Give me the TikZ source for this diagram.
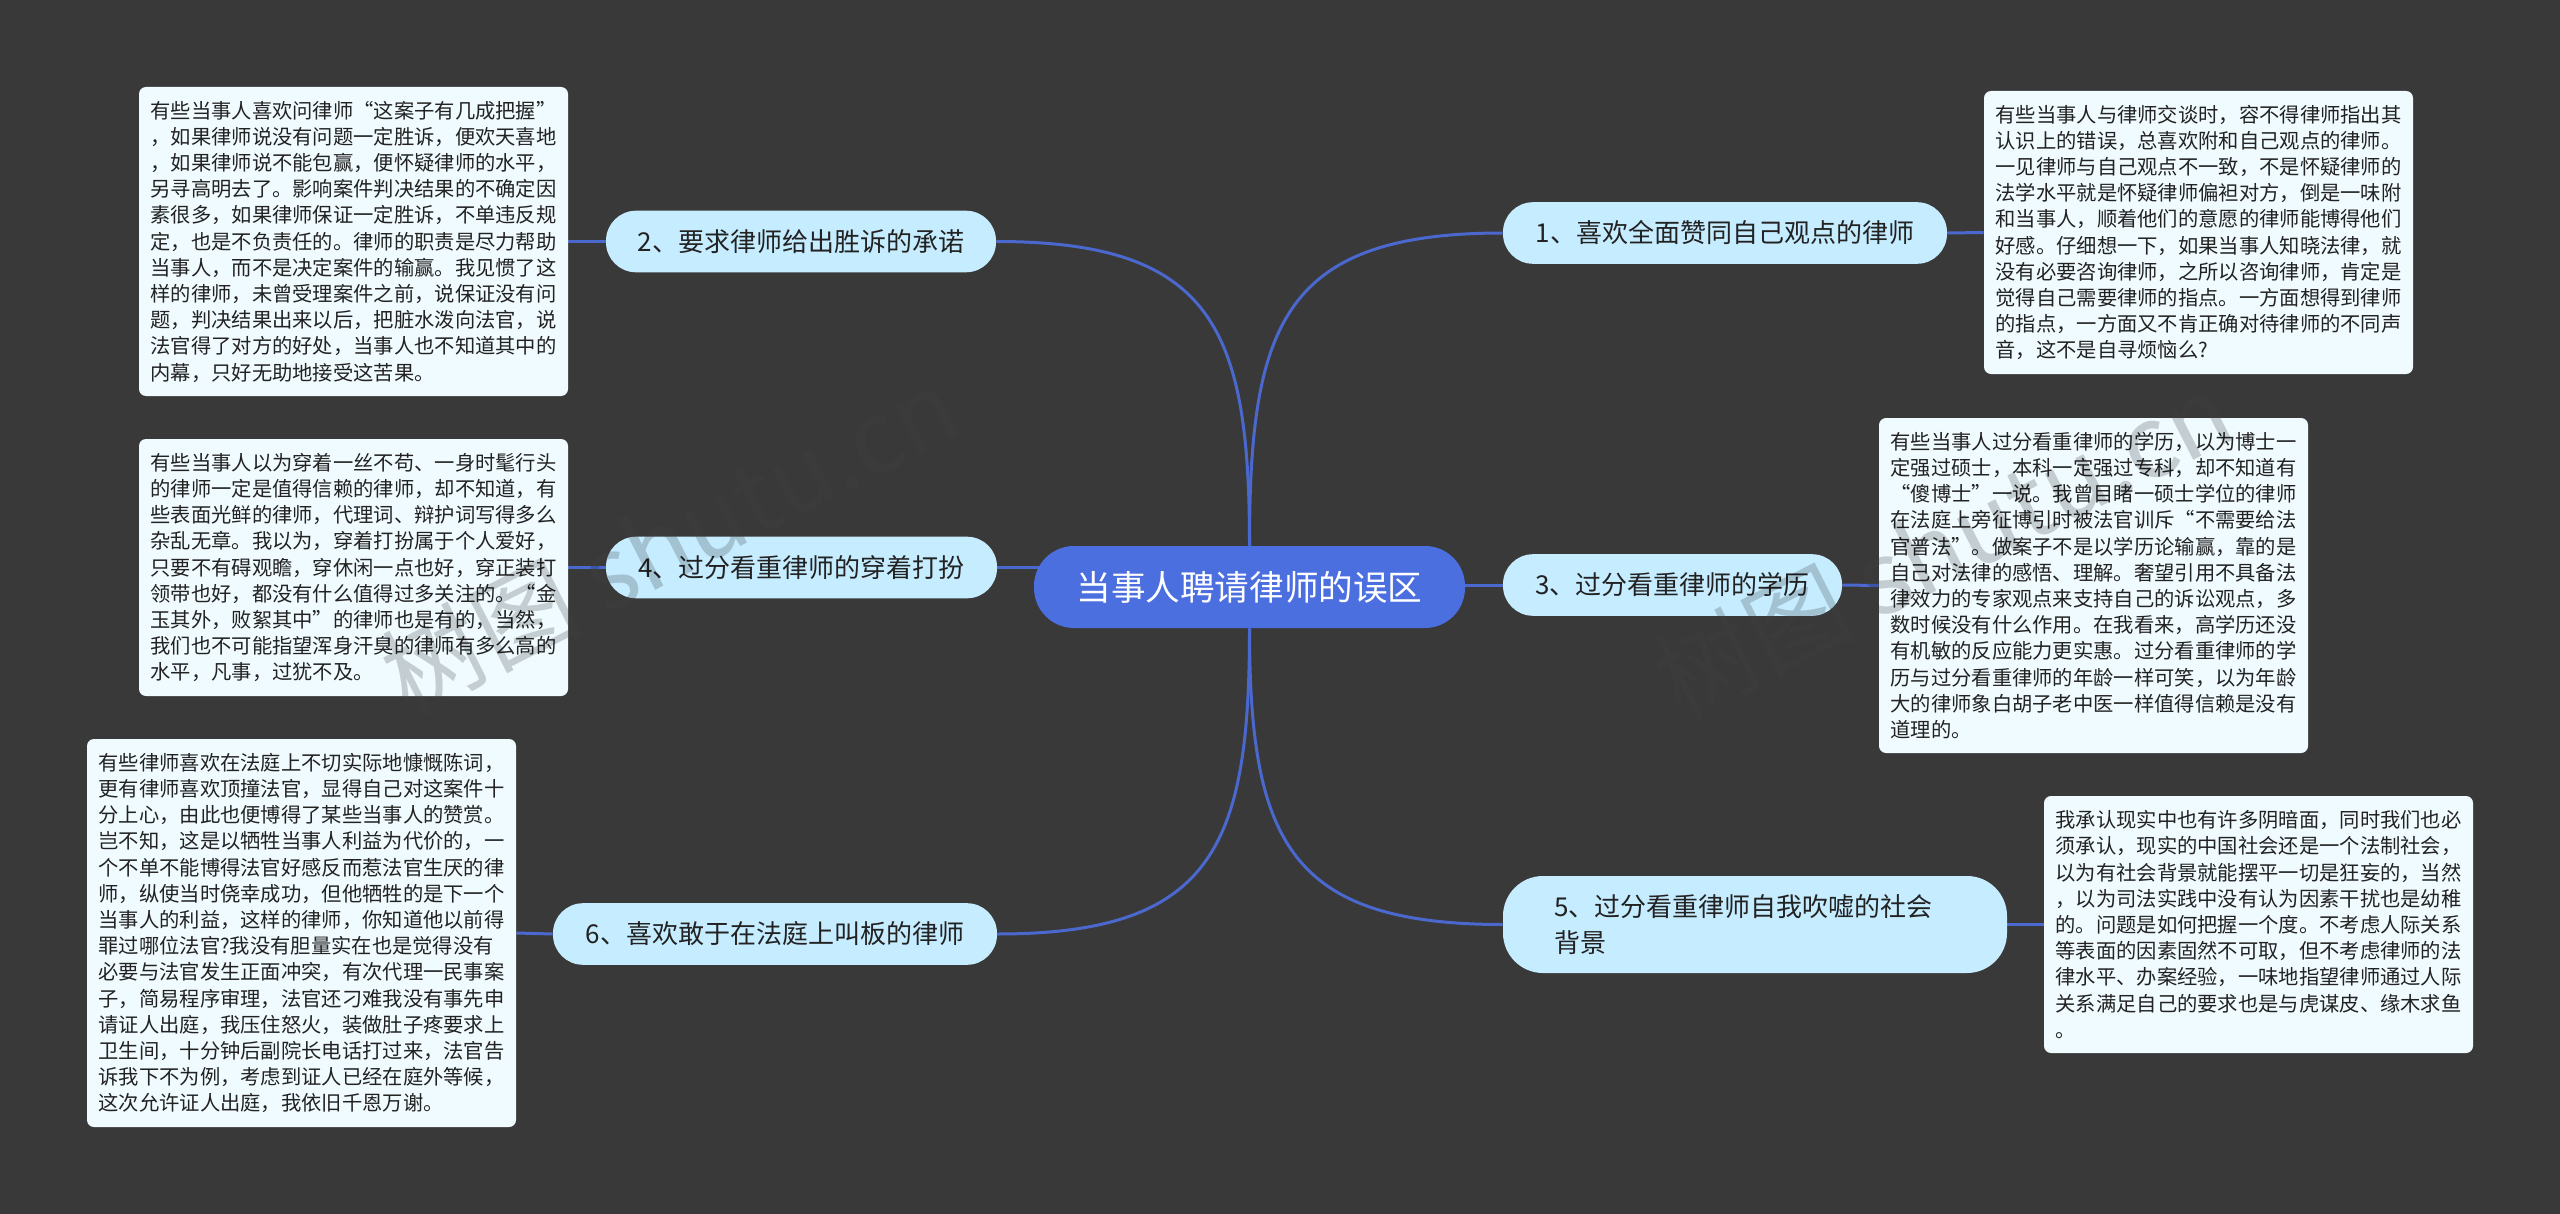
\documentclass[tikz,border=0pt]{standalone}
\usepackage{fontspec}
\setmainfont{Noto Sans CJK SC}
\usetikzlibrary{backgrounds,calc}
\definecolor{canvasgray}{HTML}{3A3939}
\definecolor{rootblue}{HTML}{4C6FE0}
\definecolor{linkblue}{HTML}{4A68CE}
\definecolor{topicblue}{HTML}{C6ECFF}
\definecolor{notewhite}{HTML}{F0FBFF}
\definecolor{inkdark}{HTML}{222222}
\tikzset{
  rootnode/.style={fill=rootblue,text=white,rounded corners=20pt,inner sep=0pt,
    minimum width=215.5pt,minimum height=41pt,font=\fontsize{17.3}{22}\selectfont},
  topicnode/.style={fill=topicblue,text=inkdark,rounded corners=15pt,inner sep=0pt,
    minimum height=30.8pt,font=\fontsize{13}{18.3}\selectfont},
  notebox/.style={fill=notewhite,text=inkdark,rounded corners=3.5pt,inner sep=0pt,
    minimum width=214.5pt,align=left,font=\fontsize{10.15}{13.1}\selectfont},
  link/.style={draw=linkblue,line width=1.5pt},
  curvelink/.style={link,looseness=1.4},
  wmark/.style={rotate=27,text=black!18,font=\fontsize{50}{60}\selectfont},
  wmarklow/.style={rotate=27,text=canvasgray!92!white,font=\fontsize{50}{60}\selectfont}
}
\begin{document}
\begin{tikzpicture}[x=0.5pt,y=-0.5pt]
  \node[rootnode] (root) at (1249.5,587) {当事人聘请律师的误区};

  \node[topicnode,minimum width=222pt] (n1) at (1725,233) {1、喜欢全面赞同自己观点的律师};
  \node[topicnode,minimum width=195pt] (n2) at (801,241.5) {2、要求律师给出胜诉的承诺};
  \node[topicnode,minimum width=169.5pt] (n3) at (1672.5,585) {3、过分看重律师的学历};
  \node[topicnode,minimum width=195.5pt] (n4) at (801.5,567.5) {4、过分看重律师的穿着打扮};
  \node[topicnode,rounded corners=20pt,minimum height=48.5pt,align=left,text width=201pt,
    inner xsep=25.5pt] (n5) at (1755,924.5) {5、过分看重律师自我吹嘘的社会\\背景};
  \node[topicnode,minimum width=222pt] (n6) at (775,934) {6、喜欢敢于在法庭上叫板的律师};

  \node[notebox,minimum height=141.5pt] (box1) at (2198.5,232.5) {有些当事人与律师交谈时，容不得律师指出其\\
    认识上的错误，总喜欢附和自己观点的律师。\\
    一见律师与自己观点不一致，不是怀疑律师的\\
    法学水平就是怀疑律师偏袒对方，倒是一味附\\
    和当事人，顺着他们的意愿的律师能博得他们\\
    好感。仔细想一下，如果当事人知晓法律，就\\
    没有必要咨询律师，之所以咨询律师，肯定是\\
    觉得自己需要律师的指点。一方面想得到律师\\
    的指点，一方面又不肯正确对待律师的不同声\\
    音，这不是自寻烦恼么?};
  \node[notebox,minimum height=154.5pt] (box2) at (353.5,241.5) {有些当事人喜欢问律师“这案子有几成把握”\\
    ，如果律师说没有问题一定胜诉，便欢天喜地\\
    ，如果律师说不能包赢，便怀疑律师的水平，\\
    另寻高明去了。影响案件判决结果的不确定因\\
    素很多，如果律师保证一定胜诉，不单违反规\\
    定，也是不负责任的。律师的职责是尽力帮助\\
    当事人，而不是决定案件的输赢。我见惯了这\\
    样的律师，未曾受理案件之前，说保证没有问\\
    题，判决结果出来以后，把脏水泼向法官，说\\
    法官得了对方的好处，当事人也不知道其中的\\
    内幕，只好无助地接受这苦果。};
  \node[notebox,minimum height=167.5pt] (box3) at (2093.5,585.5) {有些当事人过分看重律师的学历，以为博士一\\
    定强过硕士，本科一定强过专科，却不知道有\\
    “傻博士”一说。我曾目睹一硕士学位的律师\\
    在法庭上旁征博引时被法官训斥“不需要给法\\
    官普法”。做案子不是以学历论输赢，靠的是\\
    自己对法律的感悟、理解。奢望引用不具备法\\
    律效力的专家观点来支持自己的诉讼观点，多\\
    数时候没有什么作用。在我看来，高学历还没\\
    有机敏的反应能力更实惠。过分看重律师的学\\
    历与过分看重律师的年龄一样可笑，以为年龄\\
    大的律师象白胡子老中医一样值得信赖是没有\\
    道理的。};
  \node[notebox,minimum height=128.5pt] (box4) at (353.5,567.5) {有些当事人以为穿着一丝不苟、一身时髦行头\\
    的律师一定是值得信赖的律师，却不知道，有\\
    些表面光鲜的律师，代理词、辩护词写得多么\\
    杂乱无章。我以为，穿着打扮属于个人爱好，\\
    只要不有碍观瞻，穿休闲一点也好，穿正装打\\
    领带也好，都没有什么值得过多关注的。“金\\
    玉其外，败絮其中”的律师也是有的，当然，\\
    我们也不可能指望浑身汗臭的律师有多么高的\\
    水平，凡事，过犹不及。};
  \node[notebox,minimum height=128.5pt] (box5) at (2258.5,924.5) {我承认现实中也有许多阴暗面，同时我们也必\\
    须承认，现实的中国社会还是一个法制社会，\\
    以为有社会背景就能摆平一切是狂妄的，当然\\
    ，以为司法实践中没有认为因素干扰也是幼稚\\
    的。问题是如何把握一个度。不考虑人际关系\\
    等表面的因素固然不可取，但不考虑律师的法\\
    律水平、办案经验，一味地指望律师通过人际\\
    关系满足自己的要求也是与虎谋皮、缘木求鱼\\
    。};
  \node[notebox,minimum height=194pt] (box6) at (301.5,933) {有些律师喜欢在法庭上不切实际地慷慨陈词，\\
    更有律师喜欢顶撞法官，显得自己对这案件十\\
    分上心，由此也便博得了某些当事人的赞赏。\\
    岂不知，这是以牺牲当事人利益为代价的，一\\
    个不单不能博得法官好感反而惹法官生厌的律\\
    师，纵使当时侥幸成功，但他牺牲的是下一个\\
    当事人的利益，这样的律师，你知道他以前得\\
    罪过哪位法官?我没有胆量实在也是觉得没有\\
    必要与法官发生正面冲突，有次代理一民事案\\
    子，简易程序审理，法官还刁难我没有事先申\\
    请证人出庭，我压住怒火，装做肚子疼要求上\\
    卫生间，十分钟后副院长电话打过来，法官告\\
    诉我下不为例，考虑到证人已经在庭外等候，\\
    这次允许证人出庭，我依旧千恩万谢。};

  % canvas and connectors sit under the nodes
  \begin{scope}[on background layer]
    \fill[canvasgray] (0,0) rectangle (2560,1214);
    \node[wmarklow] (wmlow1) at (670,540) {树图 shutu.cn};
    \node[wmarklow] (wmlow2) at (1943,545) {树图 shutu.cn};
    \draw[curvelink] (root.north) to[out=90,in=180] (n1.west);
    \draw[curvelink] (root.north) to[out=90,in=0] (n2.east);
    \draw[curvelink] (root.south) to[out=270,in=180] (n5.west);
    \draw[curvelink] (root.south) to[out=270,in=0] (n6.east);
    \draw[link] (n3.west) -- (n3.west -| root.center);
    \draw[link] (n4.east) -- (n4.east -| root.center);
    \draw[link] (n1.east) -- (box1.west);
    \draw[link] (n2.west) -- (box2.east);
    \draw[link] (n3.east) -- (box3.west);
    \draw[link] (n4.west) -- (box4.east);
    \draw[link] (n5.east) -- (box5.west);
    \draw[link] (n6.west) -- (box6.east);
  \end{scope}

  \begin{scope}[blend mode=multiply]
    \node[wmark] (wm1) at (670,540) {树图 shutu.cn};
    \node[wmark] (wm2) at (1943,545) {树图 shutu.cn};
  \end{scope}
\end{tikzpicture}
\end{document}
